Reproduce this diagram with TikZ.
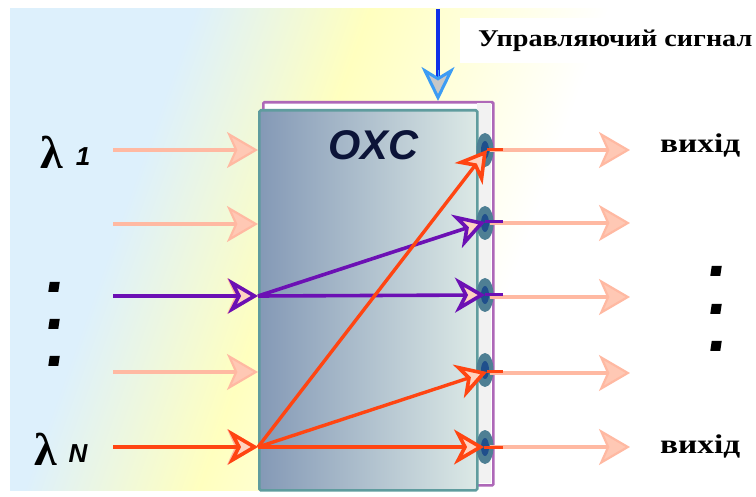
\documentclass[tikz,border=0pt]{standalone}
\usepackage{fontspec}
\setmainfont{Liberation Serif}
\newfontfamily\headfont{Liberation Sans}
\newfontfamily\ctrlserif[FakeStretch=1.175]{Liberation Serif}
\newfontfamily\outserif[FakeStretch=1.235]{Liberation Serif}
\usetikzlibrary{arrows.meta,shapes.geometric}
\definecolor{bgblue}{HTML}{DDF0FC}
\definecolor{bgyellow}{HTML}{FFFFBF}
\definecolor{paleline}{HTML}{FFB9A2}
\definecolor{headfill}{HTML}{FFD3C0}
\definecolor{palehead}{HTML}{FFC8B4}
\definecolor{orangeline}{HTML}{FF4512}
\definecolor{violetline}{HTML}{6C10B4}
\definecolor{boxteal}{HTML}{5F9C9E}
\definecolor{backpurple}{HTML}{AE68B8}
\definecolor{ctrlblue}{HTML}{1030E8}
\definecolor{tipblue}{HTML}{3C9CF4}
\definecolor{navytext}{HTML}{0C1438}
\definecolor{portdark}{HTML}{4E7F94}
\definecolor{portblue}{HTML}{1F4F8C}
\definecolor{blockleft}{HTML}{8499B6}
\definecolor{blockmid}{HTML}{AEC2CE}
\definecolor{blockright}{HTML}{DCE9E6}
\pgfdeclarehorizontalshading{bgshade}{100bp}{
  color(0bp)=(bgblue);
  color(41bp)=(bgblue);
  color(49.25bp)=(bgyellow);
  color(60.5bp)=(white);
  color(100bp)=(white)}
\tikzset{
  paletip/.style={-{Stealth[length=31pt,width=36pt,inset=8pt,fill=palehead,line width=2.2pt]}},
  paleflow/.style={draw=paleline,line width=4pt,paletip},
  strongtip/.style={-{Stealth[length=30pt,width=35pt,inset=9pt,fill=headfill,line width=3.6pt]}},
  orangeflow/.style={draw=orangeline,line width=3.4pt},
  violetflow/.style={draw=violetline,line width=3.6pt},
  stub/.style={line width=3pt},
  port/.style={ellipse,minimum width=17pt,minimum height=34pt,inner sep=0pt,fill=portdark},
  portcore/.style={ellipse,minimum width=8pt,minimum height=18pt,inner sep=0pt,fill=portblue},
  dotmark/.style={rectangle,fill=black,minimum width=10pt,minimum height=10pt,inner sep=0pt,xslant=0.15,transform shape},
  outlabel/.style={font=\outserif\bfseries\fontsize{27}{27}\selectfont,anchor=west,inner sep=0pt},
  lamlabel/.style={font=\bfseries\fontsize{46}{46}\selectfont,inner sep=0pt},
  subscr/.style={font=\headfont\bfseries\itshape\fontsize{26}{26}\selectfont,inner sep=0pt}
}
\begin{document}
\begin{tikzpicture}[x=1pt,y=-1pt]
\useasboundingbox (0,0) rectangle (756,497);
% background
\begin{scope}
\clip (10,9) rectangle (756,490);
\shade[shading=bgshade,shading angle=-19.6] (-200,-250) rectangle (800,750);
\end{scope}
\node[fill=white,inner sep=0pt,minimum width=296pt,minimum height=45pt,anchor=north west] (labelback) at (460,18) {};
% back plate
\node[draw=backpurple,line width=2.6pt,fill=white,inner sep=0pt,anchor=north west,minimum width=230pt,minimum height=383pt,rounded corners=1pt] (backplate) at (262,101) {};
\fill[black!5] (477,103) rectangle (491,483);
% main block
\node[draw=boxteal,line width=2.6pt,left color=blockleft,middle color=blockmid,right color=blockright,inner sep=0pt,anchor=north west,minimum width=218pt,minimum height=380pt,rounded corners=1.5pt] (block) at (258,109) {};
\node[font=\headfont\bfseries\itshape\fontsize{41.5}{41.5}\selectfont,text=navytext,inner sep=0pt] (oxc) at (373,145) {OXC};
% ports
\foreach \n/\y in {a/150,b/223,c/295,d/370,e/447}{
  \node[port] (port\n) at (485,\y) {};
  \node[portcore] (core\n) at (485,\y) {};
}
% coordinates
\foreach \n/\y in {a/150,b/224,c/296,d/372,e/447}{
  \coordinate (in\n) at (113,\y);
  \coordinate (entry\n) at (block.west |- in\n);
}
\foreach \n/\y in {a/150,b/223,c/297,d/373,e/447}{
  \coordinate (outs\n) at (490,\y);
  \coordinate (oute\n) at (630,\y);
}
\coordinate (ctrltop) at (438,9);
\coordinate (ctrlmid) at (438,80);
\coordinate (ctrlstart) at (438,70);
\coordinate (ctrlend) at (438,101);
\coordinate (hita) at (487,150);
\coordinate (hitb) at (485,222);
\coordinate (hitc) at (485,295);
\coordinate (hitd) at (487,372);
\coordinate (hite) at (484,447);
\coordinate (stuba) at (503,150);
\coordinate (stubb) at (503,222);
\coordinate (stubc) at (503,295);
\coordinate (stubd) at (503,372);
\coordinate (stube) at (503,447);
% pale input arrows
\foreach \n in {a,b,c,d,e}{\draw[paleflow] (in\n) -- (entry\n);}
% pale output arrows
\foreach \n in {a,b,c,d,e}{\draw[paleflow] (outs\n) -- (oute\n);}
% violet
\draw[violetflow,strongtip] (inc) -- (entryc);
\draw[violetflow,strongtip] (entryc) -- (hitb);
\draw[violetflow,strongtip] (entryc) -- (hitc);
\draw[violetflow,stub] (hitb) -- (stubb);
\draw[violetflow,stub] (hitc) -- (stubc);
% orange
\draw[orangeflow,strongtip] (ine) -- (entrye);
\draw[orangeflow,strongtip] (entrye) -- (hita);
\draw[orangeflow,strongtip] (entrye) -- (hitd);
\draw[orangeflow,strongtip] (entrye) -- (hite);
\draw[orangeflow,stub] (hita) -- (stuba);
\draw[orangeflow,stub] (hitd) -- (stubd);
\draw[orangeflow,stub] (hite) -- (stube);
% control
\draw[draw=ctrlblue,line width=4pt] (ctrltop) -- (ctrlmid);
\draw[draw=tipblue,line width=0.1pt,-{Stealth[length=34pt,width=33pt,inset=10pt,fill=black!22,line width=3pt]}] (ctrlstart) -- (ctrlend);
% labels
\node[font=\ctrlserif\bfseries\fontsize{24}{24}\selectfont,anchor=west,inner sep=0pt] (ctrltext) at (478,41) {Управляючий сигнал};
\node[outlabel] (outone) at (660,145) {вихід};
\node[outlabel] (outtwo) at (660,446) {вихід};
\node[lamlabel] (lamone) at (52,152) {λ};
\node[subscr] (subone) at (83,157) {1};
\node[lamlabel] (lamtwo) at (46,449) {λ};
\node[subscr] (subtwo) at (78,454) {N};
\foreach \y [count=\i] in {287,324,361}{\node[dotmark] (ldot\i) at (54,\y) {};}
\foreach \y [count=\i] in {271,309,346}{\node[dotmark] (rdot\i) at (716,\y) {};}
\end{tikzpicture}
\end{document}
